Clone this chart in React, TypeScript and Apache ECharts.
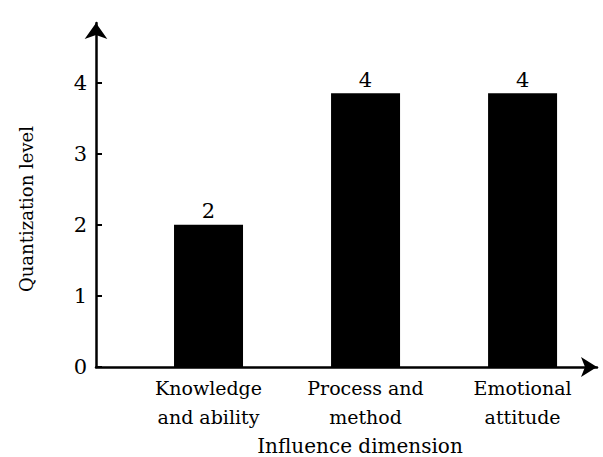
import React, { useEffect, useRef } from "react";
import * as echarts from "echarts";

const categories = ["Knowledge\nand ability", "Process and\nmethod", "Emotional\nattitude"];
const levels = [2, 3.85, 3.85];
const yTicks = [0, 1, 2, 3, 4];

const FONT = "DejaVu Serif";

export default function App() {
  const ref = useRef<HTMLDivElement>(null);
  useEffect(() => {
    if (!ref.current) return;
    const chart = echarts.init(ref.current, undefined, { renderer: "svg" });
    chart.setOption({
      animation: false,
      backgroundColor: "#ffffff",
      textStyle: { fontFamily: FONT },
      grid: { left: 96, right: 6, top: 23, bottom: 90, containLabel: false, outerBoundsMode: "none" },
      xAxis: {
        type: "value",
        min: 0.2834,
        max: 3.474,
        name: "Influence dimension",
        nameLocation: "middle",
        nameGap: 66,
        nameTextStyle: { fontFamily: FONT, fontSize: 20, color: "#000", padding: [0, 0, 0, 27] },
        axisLine: {
          show: true,
          symbol: ["none", "arrow"],
          symbolSize: [15, 16],
          lineStyle: { color: "#000", width: 2.5 },
        },
        axisTick: { show: false },
        splitLine: { show: false },
        axisLabel: {
          margin: 6,
          fontFamily: FONT,
          fontSize: 19,
          lineHeight: 29,
          color: "#000",
          formatter: (v: number) => {
            const r = Math.round(v);
            if (Math.abs(v - r) > 1e-6 || r < 1 || r > categories.length) return "";
            return categories[r - 1];
          },
        },
      },
      yAxis: {
        type: "value",
        min: 0,
        max: 4.84,
        interval: 1,
        name: "Quantization level",
        nameLocation: "middle",
        nameGap: 61,
        nameRotate: 90,
        nameTextStyle: { fontFamily: FONT, fontSize: 18, color: "#000", padding: [0, 28, 0, 0] },
        axisLine: {
          show: true,
          symbol: ["none", "arrow"],
          symbolSize: [17, 16],
          lineStyle: { color: "#000", width: 2.5 },
        },
        axisTick: { show: true, inside: true, length: 6, lineStyle: { color: "#000", width: 2 } },
        splitLine: { show: false },
        axisLabel: {
          margin: 9,
          fontFamily: FONT,
          fontSize: 21,
          color: "#000",
          showMaxLabel: false,
          formatter: (v: number) => (yTicks.indexOf(v) >= 0 ? String(v) : ""),
        },
      },
      series: [
        {
          type: "bar",
          data: levels.map((v, i) => [i + 1, v]),
          barWidth: 69,
          itemStyle: { color: "#000" },
          label: {
            show: true,
            position: "top",
            distance: 3,
            fontFamily: FONT,
            fontSize: 21,
            color: "#000",
            formatter: (p: any) => String(Math.round(p.value[1])),
          },
        },
      ],
    });
    return () => chart.dispose();
  }, []);
  return <div ref={ref} style={{ width: 603, height: 457, position: "absolute", left: 0, top: 0 }} />;
}
